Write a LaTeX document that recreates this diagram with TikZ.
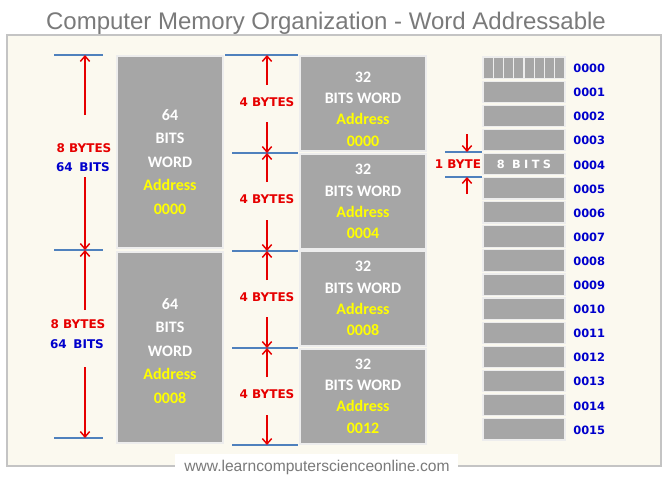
\documentclass[tikz,border=0pt]{standalone}
\usepackage{fontspec}
\setmainfont{Liberation Sans}
\newfontfamily\blockfont{Carlito}
\newfontfamily\labfont{DejaVu Sans}
\newfontfamily\spacedfont[LetterSpace=30]{DejaVu Sans}
\usetikzlibrary{arrows.meta}
\definecolor{panelfill}{HTML}{FBF9EF}
\definecolor{panelborder}{HTML}{C4C4C4}
\definecolor{titlegray}{HTML}{7A7A7A}
\definecolor{blkgray}{HTML}{A6A6A6}
\definecolor{blkedge}{HTML}{EDEDED}
\definecolor{tickblue}{HTML}{4F81BD}
\definecolor{dimred}{HTML}{E60000}
\definecolor{addrblue}{HTML}{0000CC}
\definecolor{addryellow}{HTML}{FFFF00}
\begin{document}
\begin{tikzpicture}[x=0.75pt,y=-0.75pt,
  blk/.style={draw=blkedge, fill=blkgray, line width=0.9pt, inner sep=0pt},
  tickline/.style={draw=tickblue, line width=1.1pt},
  dimarrow/.style={draw=dimred, line width=1.1pt, -{Straight Barb[length=4pt,width=7pt]}},
  redlab/.style={text=dimred, font=\labfont\bfseries\fontsize{9pt}{10pt}\selectfont, inner sep=0pt},
  bluelab/.style={text=addrblue, font=\labfont\bfseries\fontsize{9pt}{10pt}\selectfont, inner sep=0pt},
  addrlab/.style={text=addrblue, font=\labfont\bfseries\fontsize{8.6pt}{10pt}\selectfont, inner sep=0pt, anchor=west},
  bigtext/.style={text=white, align=center, inner sep=0pt, font=\blockfont\bfseries\fontsize{12pt}{17.6pt}\selectfont},
  midtext/.style={text=white, align=center, inner sep=0pt, font=\blockfont\bfseries\fontsize{12pt}{16pt}\selectfont}
]
\useasboundingbox (0,0) rectangle (667,480);
\fill[white] (0,0) rectangle (667,480);
% title
\node[text=titlegray, font=\fontsize{18pt}{20pt}\selectfont, anchor=base] (title) at (326,29) {Computer Memory Organization - Word Addressable};
% panel
\draw[fill=panelfill, draw=panelborder, line width=0.8pt] (7,35) rectangle (661,466);
% footer
\node[fill=white, minimum width=212pt, minimum height=20pt, inner sep=0pt] (footbox) at (316.5,467) {};
\node[text=titlegray, font=\fontsize{11.7pt}{13pt}\selectfont, anchor=base] (foot) at (317,471) {www.learncomputerscienceonline.com};

% 64-bit words
\node[blk, minimum width=79.5pt, minimum height=144pt] (w64a) at (170,152) {};
\node[blk, minimum width=79.5pt, minimum height=143.25pt] (w64b) at (170,347.5) {};
\node[bigtext] (t64a) at (170,162) {64\\BITS\\WORD\\{\color{addryellow}Address}\\{\color{addryellow}0000}};
\node[bigtext] (t64b) at (170,351) {64\\BITS\\WORD\\{\color{addryellow}Address}\\{\color{addryellow}0008}};

% 32-bit words
\node[blk, minimum width=94.5pt, minimum height=71.25pt] (w32a) at (363,103.5) {};
\node[blk, minimum width=94.5pt, minimum height=71.25pt] (w32b) at (363,201.5) {};
\node[blk, minimum width=94.5pt, minimum height=71.25pt] (w32c) at (363,298.5) {};
\node[blk, minimum width=94.5pt, minimum height=71.25pt] (w32d) at (363,396.5) {};
\node[midtext] (t32a) at (363,109) {32\\BITS WORD\\{\color{addryellow}Address}\\{\color{addryellow}0000}};
\node[midtext] (t32b) at (363,201.5) {32\\BITS WORD\\{\color{addryellow}Address}\\{\color{addryellow}0004}};
\node[midtext] (t32c) at (363,298.5) {32\\BITS WORD\\{\color{addryellow}Address}\\{\color{addryellow}0008}};
\node[midtext] (t32d) at (363,396) {32\\BITS WORD\\{\color{addryellow}Address}\\{\color{addryellow}0012}};

% byte cells
\foreach \i in {0,...,15} {
  \node[blk, minimum width=61.5pt, minimum height=16.1pt] (b\i) at (524,{67.75+24.1*\i}) {};
  \node[addrlab] (a\i) at (573,{68.5+24.1*\i}) {\ifnum\i<10 000\i\else 00\i\fi};
}
\foreach \k in {1,...,7}
  \draw[blkedge, line width=1.1pt] ({483+\k*10.25},56.5) -- ({483+\k*10.25},79);
\node[text=white, font=\spacedfont\bfseries\fontsize{8.5pt}{10pt}\selectfont, inner sep=0pt] (eightbits) at (b4) {8 BITS};

% left dimension (64-bit)
\draw[tickline] (54,55) -- (103,55);
\draw[tickline] (54,250) -- (103,250);
\draw[tickline] (54,438) -- (103,438);
\coordinate (L1) at (85,55);
\coordinate (L2) at (85,250);
\coordinate (L3) at (85,438);
\node[redlab] (l8a) at (84,148) {8 BYTES};
\node[bluelab] (l64a) at (83,167) {64\hspace{0.55em}BITS};
\node[redlab] (l8b) at (78,324) {8 BYTES};
\node[bluelab] (l64b) at (77,344) {64\hspace{0.55em}BITS};
\draw[dimarrow] (85,115) -- (L1);
\draw[dimarrow] (85,177) -- (L2);
\draw[dimarrow] (85,310) -- (L2);
\draw[dimarrow] (85,367) -- (L3);

% middle dimension (32-bit)
\draw[tickline] (225,55) -- (298,55);
\draw[tickline] (232,153) -- (298,153);
\draw[tickline] (232,251) -- (298,251);
\draw[tickline] (232,348) -- (298,348);
\draw[tickline] (232,445) -- (298,445);
\coordinate (M1) at (267,55);
\coordinate (M2) at (267,153);
\coordinate (M3) at (267,251);
\coordinate (M4) at (267,348);
\coordinate (M5) at (267,445);
\node[redlab] (m4a) at (267,102) {4 BYTES};
\node[redlab] (m4b) at (267,199) {4 BYTES};
\node[redlab] (m4c) at (267,297) {4 BYTES};
\node[redlab] (m4d) at (267,394) {4 BYTES};
\draw[dimarrow] (267,85) -- (M1);
\draw[dimarrow] (267,122) -- (M2);
\draw[dimarrow] (267,182) -- (M2);
\draw[dimarrow] (267,220) -- (M3);
\draw[dimarrow] (267,280) -- (M3);
\draw[dimarrow] (267,317) -- (M4);
\draw[dimarrow] (267,377) -- (M4);
\draw[dimarrow] (267,415) -- (M5);

% 1 byte dimension
\draw[tickline] (445,152) -- (482,152);
\draw[tickline] (445,177) -- (482,177);
\coordinate (B1) at (467,152);
\coordinate (B2) at (467,177);
\node[redlab] (onebyte) at (458,164.5) {1 BYTE};
\draw[dimarrow] (467,134) -- (B1);
\draw[dimarrow] (467,194) -- (B2);
\end{tikzpicture}
\end{document}
